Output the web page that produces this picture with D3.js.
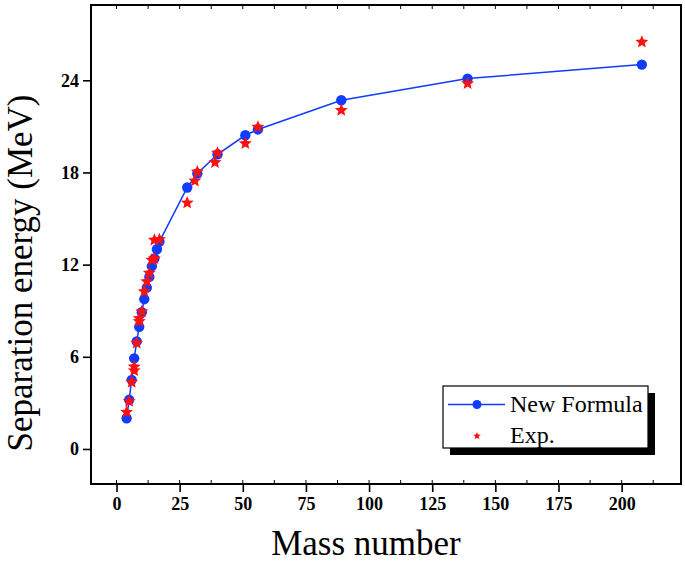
<!DOCTYPE html>
<html><head><meta charset="utf-8">
<script src="https://cdn.jsdelivr.net/npm/d3@7"></script>
<style>body{margin:0;background:#fff}svg{display:block}</style>
</head><body>
<svg id="c" width="685" height="562"></svg>
<script>
// New Formula (blue, connected)
const formulaA = [4,5,6,7,8,9,10,11,12,13,14,15,16,17,28,32,40,51,56,89,139,208];
const formulaS = [2.0,3.2,4.5,5.9,7.0,7.95,8.9,9.75,10.5,11.2,11.9,12.4,13.0,13.5,17.02,17.93,19.18,20.42,20.8,22.7,24.11,25.02];
// Experimental (red stars)
const expA = [4,5,6,7,7,8,9,9,10,11,12,13,14,15,15,17,28,31,32,39,40,51,56,89,139,208];
const expS = [2.4,3.1,4.35,5.1,5.35,6.9,8.3,8.5,8.95,10.25,10.9,11.45,12.3,12.4,13.6,13.64,16.02,17.45,18.04,18.65,19.27,19.88,20.96,22.05,23.79,26.49];
const xTicks = [0,25,50,75,100,125,150,175,200];
const yTicks = [0,6,12,18,24];
const xTitle = "Mass number";
const yTitle = "Separation energy (MeV)";
const legendLabels = ["New Formula","Exp."];

const svg = d3.select("#c");
const L = 91, R = 681, T = 5, B = 484;
const x = d3.scaleLinear().domain([-10.1, 223.5]).range([L, R]);
const y = d3.scaleLinear().domain([-2.28, 28.9]).range([B, T]);
const blue = "#0f3cff", red = "#ff1010";
const font = "'Liberation Serif','Times New Roman',serif";

// five-point star symbol type (size = outer radius squared)
const starType = {
  draw(ctx, size) {
    const r = Math.sqrt(size), ri = r * 0.45;
    for (let i = 0; i < 10; i++) {
      const ang = -Math.PI / 2 + i * Math.PI / 5;
      const rr = i % 2 ? ri : r;
      const px = rr * Math.cos(ang), py = rr * Math.sin(ang);
      i ? ctx.lineTo(px, py) : ctx.moveTo(px, py);
    }
    ctx.closePath();
  }
};

// minor ticks (inward) bottom & top
const minorX = d3.range(0, 225, 12.5);
svg.append("g").selectAll("line").data(minorX).join("line")
  .attr("x1", d => x(d)).attr("x2", d => x(d))
  .attr("y1", B).attr("y2", B - 4).attr("stroke", "#000").attr("stroke-width", 1);
svg.append("g").selectAll("line").data(minorX).join("line")
  .attr("x1", d => x(d)).attr("x2", d => x(d))
  .attr("y1", T).attr("y2", T + 4).attr("stroke", "#000").attr("stroke-width", 1);

// axes
const xAxis = svg.append("g").attr("transform", `translate(0,${B})`)
  .call(d3.axisBottom(x).tickValues(xTicks).tickSize(8).tickPadding(5).tickFormat(d3.format("d")));
const yAxis = svg.append("g").attr("transform", `translate(${L},0)`)
  .call(d3.axisLeft(y).tickValues(yTicks).tickSize(8).tickPadding(4).tickFormat(d3.format("d")));
[xAxis, yAxis].forEach(g => {
  g.select(".domain").remove();
  g.selectAll(".tick line").attr("stroke", "#000").attr("stroke-width", 1.6);
  g.selectAll(".tick text").attr("font-family", font).attr("font-weight", "bold")
    .attr("font-size", 18).attr("fill", "#000");
});

// frame
svg.append("rect").attr("x", L).attr("y", T).attr("width", R - L).attr("height", B - T)
  .attr("fill", "none").attr("stroke", "#000").attr("stroke-width", 2);

// data
const fData = formulaA.map((a, i) => ({a, s: formulaS[i]}));
const eData = expA.map((a, i) => ({a, s: expS[i]}));
svg.append("path").datum(fData)
  .attr("d", d3.line().x(d => x(d.a)).y(d => y(d.s)))
  .attr("fill", "none").attr("stroke", blue).attr("stroke-width", 1.5);
svg.append("g").selectAll("circle").data(fData).join("circle")
  .attr("cx", d => x(d.a)).attr("cy", d => y(d.s)).attr("r", 5.2).attr("fill", blue);
const star = d3.symbol(starType).size(46);
svg.append("g").selectAll("path").data(eData).join("path")
  .attr("d", star).attr("transform", d => `translate(${x(d.a)},${y(d.s)})`).attr("fill", red);

// legend
const lx = 443, ly = 386, lw = 205, lh = 62;
svg.append("rect").attr("x", lx + 7).attr("y", ly + 7).attr("width", lw).attr("height", lh).attr("fill", "#000");
svg.append("rect").attr("x", lx).attr("y", ly).attr("width", lw).attr("height", lh)
  .attr("fill", "#fff").attr("stroke", "#000").attr("stroke-width", 1.2);
svg.append("line").attr("x1", lx + 5).attr("x2", lx + 62).attr("y1", ly + 18.5).attr("y2", ly + 18.5)
  .attr("stroke", blue).attr("stroke-width", 1.5);
svg.append("circle").attr("cx", lx + 34).attr("cy", ly + 18.5).attr("r", 4.5).attr("fill", blue);
svg.append("path").attr("d", d3.symbol(starType).size(16)).attr("transform", `translate(${lx + 34},${ly + 50})`).attr("fill", red);
svg.append("text").attr("x", lx + 67).attr("y", ly + 26).text(legendLabels[0])
  .attr("font-family", font).attr("font-size", 24).attr("fill", "#000");
svg.append("text").attr("x", lx + 67).attr("y", ly + 57).text(legendLabels[1])
  .attr("font-family", font).attr("font-size", 24).attr("fill", "#000");

// titles
svg.append("text").attr("x", 366).attr("y", 555).attr("text-anchor", "middle")
  .attr("font-family", font).attr("font-size", 35).attr("fill", "#000").text(xTitle);
svg.append("text").attr("transform", "translate(32,273) rotate(-90)").attr("text-anchor", "middle")
  .attr("font-family", font).attr("font-size", 35).attr("fill", "#000").text(yTitle);
</script>
</body></html>
